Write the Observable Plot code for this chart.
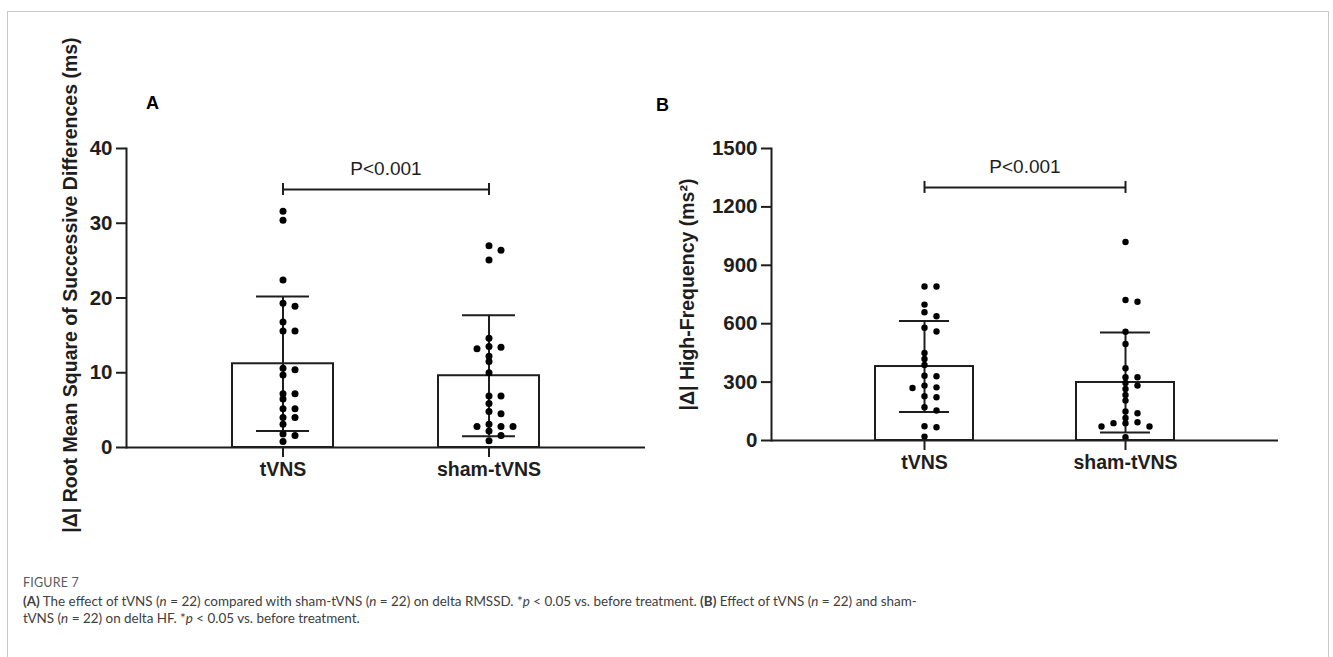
<!DOCTYPE html>
<html><head><meta charset="utf-8">
<script src="https://cdn.jsdelivr.net/npm/d3@7"></script>
<script src="https://cdn.jsdelivr.net/npm/@observablehq/plot@0.6"></script>
<style>
body{margin:0;background:#fff;width:1333px;height:657px;overflow:hidden;position:relative;font-family:"Liberation Sans",Arial,sans-serif;}
#frame{position:absolute;left:7px;top:11px;width:1320px;height:720px;border:1.5px solid #c8c8c8;}
#plotA{position:absolute;left:0;top:0;}
#plotB{position:absolute;left:650px;top:0;}
#caption{position:absolute;left:23px;top:574px;font-family:Lato,sans-serif;color:#404040;font-size:13.45px;line-height:17px;white-space:nowrap;}
#caption .fig{font-size:12.5px;color:#5a5a5a;letter-spacing:0.2px;margin-bottom:2px;}
</style></head><body>
<div id="frame"></div>
<div id="plotA"></div>
<div id="plotB"></div>
<div id="caption">
<div class="fig">FIGURE 7</div>
<div><b>(A)</b> The effect of tVNS (<i>n</i> = 22) compared with sham-tVNS (<i>n</i> = 22) on delta RMSSD. *<i>p</i> &lt; 0.05 vs. before treatment. <b>(B)</b> Effect of tVNS (<i>n</i> = 22) and sham-</div>
<div>tVNS (<i>n</i> = 22) on delta HF. *<i>p</i> &lt; 0.05 vs. before treatment.</div>
</div>
<script>
// ---------- data ----------
const groups = ["tVNS", "sham-tVNS"];

const rmssdTVNS = [31.6, 30.4, 22.4, 19.3, 18.9, 16.8, 15.6, 15.6, 10.6, 10.4, 9.7, 7.2, 7.2, 6.5, 5.2, 5.2, 4.0, 4.0, 3.1, 1.8, 1.6, 0.8];
const rmssdSham = [27.0, 26.4, 25.1, 14.6, 13.5, 13.4, 13.2, 12.2, 11.5, 10.0, 6.9, 6.9, 5.9, 4.8, 4.5, 3.1, 2.8, 2.8, 2.8, 2.2, 1.6, 0.9];
const rmssdMean = [11.2, 9.6];
const rmssdSD = [9.0, 8.1];
const rmssdTicks = [0, 10, 20, 30, 40];
const rmssdBracket = 34.5;

const hfTVNS = [791, 791, 698, 659, 638, 579, 560, 450, 419, 388, 333, 330, 282, 273, 270, 227, 222, 171, 154, 73, 68, 20];
const hfSham = [1020, 722, 713, 559, 496, 371, 325, 325, 296, 282, 265, 234, 205, 149, 140, 116, 94, 89, 89, 72, 72, 17];
const hfMean = [380, 298];
const hfSD = [234, 257];
const hfTicks = [0, 300, 600, 900, 1200, 1500];
const hfBracket = 1300;

const pLabel = "P<0.001";
const yLabelA = "|Δ| Root Mean Square of Successive Differences (ms)";
const yLabelB = "|Δ| High-Frequency (ms²)";
const panelA = "A", panelB = "B";

// ---------- helpers ----------
const FONT = "'Liberation Sans', Arial, sans-serif";
const INK = "#1e1e1e";

function swarm(values, group, pxPerUnit, minGap) {
  const pts = values.map(v => ({group, value: v})).sort((a, b) => b.value - a.value);
  const placed = [];
  const cands = [0, 1, -1, 2, -2, 3, -3];
  for (const d of pts) {
    for (const c of cands) {
      if (!placed.some(p => p.col === c && Math.abs(p.value - d.value) * pxPerUnit < minGap)) { d.col = c; break; }
    }
    placed.push(d);
  }
  return placed;
}

function panel(opts) {
  const {width, height, marginLeft, marginRight, marginTop, marginBottom, yMax, ticks,
         a, b, means, sds, bracket, yLabel, yLabelDx, yLabelDy, panelLetter, letterDx, letterDy, r} = opts;
  const pxPerUnit = (height - marginTop - marginBottom) / yMax;
  const stats = groups.map((g, i) => ({group: g, mean: means[i], sd: sds[i]}));
  const pts = [...swarm(a, groups[0], pxPerUnit, 5), ...swarm(b, groups[1], pxPerUnit, 5)];
  const cols = Array.from(new Set(pts.map(p => p.col)));
  const dotMarks = cols.map(c => Plot.dot(pts.filter(p => p.col === c), {x: "group", y: "value", dx: c * 12, r, fill: "#000", stroke: "none"}));
  const sig = [{from: groups[0], to: groups[1], level: bracket, label: pLabel}];
  const ends = [{group: groups[0], level: bracket}, {group: groups[1], level: bracket}];
  const line = {stroke: INK, strokeWidth: 2};
  return Plot.plot({
    width, height, marginLeft, marginRight, marginTop, marginBottom,
    style: {background: "transparent", overflow: "visible", fontFamily: FONT, color: INK},
    x: {domain: groups, padding: 0.51, label: null},
    y: {domain: [0, yMax], label: null},
    marks: [
      Plot.barY(stats, {x: "group", y: "mean", fill: "white", ...line}),
      Plot.ruleX(stats, {x: "group", y1: d => d.mean - d.sd, y2: d => d.mean + d.sd, ...line}),
      Plot.tickY(stats, {x: "group", y: d => d.mean + d.sd, insetLeft: 24, insetRight: 24, ...line}),
      Plot.tickY(stats, {x: "group", y: d => d.mean - d.sd, insetLeft: 24, insetRight: 24, ...line}),
      ...dotMarks,
      Plot.ruleY([0], line),
      Plot.frame({anchor: "left", ...line}),
      Plot.axisY({ticks, tickFormat: d => String(d), tickSize: 10, tickPadding: 4, fontSize: 20.5, fontWeight: "bold", strokeWidth: 2, label: null}),
      Plot.axisX({tickSize: 10, tickPadding: 5, fontSize: 19.5, fontWeight: "bold", strokeWidth: 2, label: null}),
      Plot.link(sig, {x1: "from", x2: "to", y1: "level", y2: "level", ...line}),
      Plot.ruleX(ends, {x: "group", y1: "level", y2: "level", insetTop: -6, insetBottom: -6, ...line}),
      Plot.text(sig, {y: "level", text: "label", frameAnchor: "middle", dy: -21, fontSize: 19, fill: INK}),
      Plot.text([yLabel], {text: d => d, frameAnchor: "left", rotate: -90, dx: yLabelDx, dy: yLabelDy, fontSize: 19.5, fontWeight: "bold", textAnchor: "middle", lineAnchor: "middle", fill: INK}),
      Plot.text([panelLetter], {text: d => d, frameAnchor: "top-left", dx: letterDx, dy: letterDy, fontSize: 18, fontWeight: "bold", textAnchor: "middle", lineAnchor: "middle", fill: "#000"})
    ]
  });
}

document.getElementById("plotA").append(panel({
  width: 660, height: 540, marginLeft: 126, marginRight: 15, marginTop: 148, marginBottom: 93,
  yMax: 40, ticks: rmssdTicks, a: rmssdTVNS, b: rmssdSham, means: rmssdMean, sds: rmssdSD,
  bracket: rmssdBracket, yLabel: yLabelA, yLabelDx: -56, yLabelDy: -13, panelLetter: panelA,
  letterDx: 26, letterDy: -45, r: 3.5
}));
document.getElementById("plotB").append(panel({
  width: 650, height: 540, marginLeft: 121, marginRight: 22, marginTop: 148, marginBottom: 100,
  yMax: 1500, ticks: hfTicks, a: hfTVNS, b: hfSham, means: hfMean, sds: hfSD,
  bracket: hfBracket, yLabel: yLabelB, yLabelDx: -84, yLabelDy: 0, panelLetter: panelB,
  letterDx: -109, letterDy: -43, r: 3.2
}));
</script>
</body></html>
